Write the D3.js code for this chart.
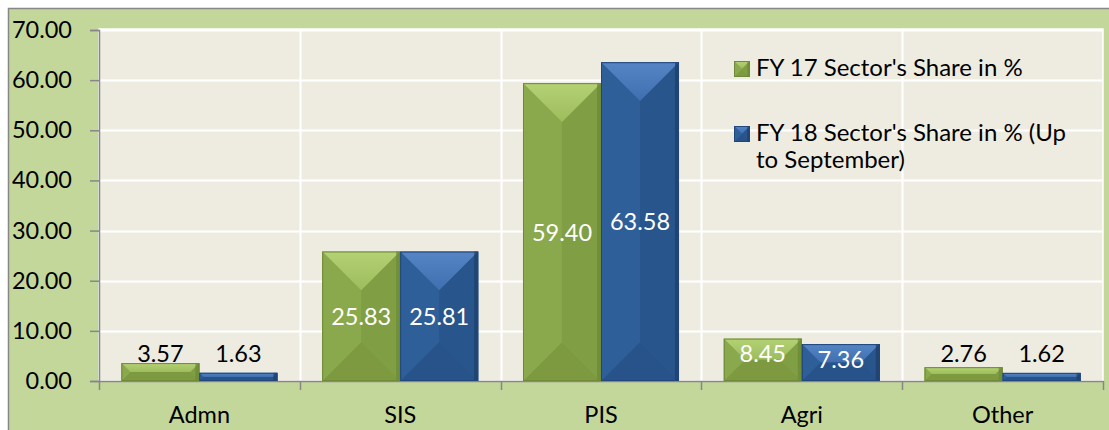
<!DOCTYPE html>
<html>
<head>
<meta charset="utf-8">
<script src="https://cdn.jsdelivr.net/npm/d3@7/dist/d3.min.js"></script>
<style>
  html, body { margin: 0; padding: 0; background: #ffffff; }
  svg { display: block; }
  text { font-family: Lato, "Open Sans", sans-serif; }
</style>
</head>
<body>
<svg id="chart" width="1109" height="430"></svg>
<script>
const categories = ["Admn", "SIS", "PIS", "Agri", "Other"];
const fy17 = [3.57, 25.83, 59.40, 8.45, 2.76];
const fy18 = [1.63, 25.81, 63.58, 7.36, 1.62];
const seriesNames = ["FY 17 Sector's Share in %", "FY 18 Sector's Share in % (Up to September)"];
const yTicks = [0, 10, 20, 30, 40, 50, 60, 70];

const W = 1109, H = 430;
const plot = { left: 99, right: 1103, top: 29, bottom: 381 };
const FS = 23.5;

const palette = [
  { id: "g", base: "#88a64a", topA: "#b4d274", topB: "#9dbc5c", left: "#8aa84c", right: "#809e44", bottom: "#7d9a41", edge: "#6b8734", stroke: "#6f8a38" },
  { id: "b", base: "#2c5c95", topA: "#5585c5", topB: "#3f6fae", left: "#2f5f98", right: "#28568c", bottom: "#27528a", edge: "#1c3d68", stroke: "#21467a" }
];

const svg = d3.select("#chart");
const defs = svg.append("defs");
palette.forEach(c => {
  const lg = defs.append("linearGradient").attr("id", "top-" + c.id).attr("x1", 0).attr("y1", 0).attr("x2", 0).attr("y2", 1);
  lg.append("stop").attr("offset", "0%").attr("stop-color", c.topA);
  lg.append("stop").attr("offset", "100%").attr("stop-color", c.topB);
});

// outer chart area
svg.append("rect").attr("x", 8.5).attr("y", 8.5).attr("width", W).attr("height", H)
  .attr("fill", "#c4d79b").attr("stroke", "#878787").attr("stroke-width", 1.5);

// plot area
svg.append("rect").attr("x", plot.left).attr("y", plot.top)
  .attr("width", plot.right - plot.left).attr("height", plot.bottom - plot.top)
  .attr("fill", "#eeece1").attr("stroke", "#ffffff").attr("stroke-width", 1.5);

const y = d3.scaleLinear().domain([0, 70]).range([plot.bottom, 30]);
const x = d3.scaleBand().domain(categories).range([plot.left, plot.right]).padding(0);
const groupRatio = 0.777;
const xs = d3.scaleBand().domain([0, 1]).range([0, x.bandwidth() * groupRatio]).padding(0);
const groupOffset = (x.bandwidth() * (1 - groupRatio)) / 2;

// horizontal gridlines
svg.append("g").selectAll("line").data(yTicks.filter(t => t > 0)).join("line")
  .attr("x1", plot.left).attr("x2", plot.right)
  .attr("y1", d => Math.round(y(d)) + 0.5).attr("y2", d => Math.round(y(d)) + 0.5)
  .attr("stroke", "#ffffff").attr("stroke-width", 2);

// vertical gridlines at category boundaries
svg.append("g").selectAll("line").data(categories.slice(1)).join("line")
  .attr("x1", d => Math.round(x(d)) + 0.5).attr("x2", d => Math.round(x(d)) + 0.5)
  .attr("y1", plot.top).attr("y2", plot.bottom)
  .attr("stroke", "#ffffff").attr("stroke-width", 2);

// y axis
const yAxis = d3.axisLeft(y).tickValues(yTicks).tickFormat(d3.format(".2f")).tickSize(9).tickPadding(18);
const gy = svg.append("g").attr("transform", `translate(${plot.left},0)`).call(yAxis);
gy.select(".domain").attr("stroke", "#878787").attr("stroke-width", 1.5);
gy.selectAll(".tick line").attr("stroke", "#878787").attr("stroke-width", 1.5);
gy.selectAll(".tick text").attr("font-size", FS).attr("fill", "#000").attr("font-family", "Lato, sans-serif");

// x axis
const xAxis = d3.axisBottom(x).tickSize(0).tickPadding(0);
const gx = svg.append("g").attr("transform", `translate(0,${plot.bottom})`).call(xAxis);
gx.select(".domain").attr("stroke", "#878787").attr("stroke-width", 1.5);
gx.selectAll(".tick text").attr("font-size", FS).attr("fill", "#000").attr("font-family", "Lato, sans-serif")
  .attr("dy", 0).attr("y", 42);
// category boundary ticks
const bounds = categories.map(c => x(c)).concat([plot.right]);
svg.append("g").selectAll("line").data(bounds).join("line")
  .attr("x1", d => Math.round(d) + 0.5).attr("x2", d => Math.round(d) + 0.5)
  .attr("y1", plot.bottom).attr("y2", plot.bottom + 9)
  .attr("stroke", "#878787").attr("stroke-width", 1.5);

function bevelBar(g, x0, y0, w, h, c) {
  const x1 = x0 + w, y1 = y0 + h;
  const d = Math.min(w / 2, h / 2);
  const pts = a => a.map(p => p.join(",")).join(" ");
  g.append("rect").attr("x", x0).attr("y", y0).attr("width", w).attr("height", h).attr("fill", c.base);
  g.append("polygon").attr("points", pts([[x0, y0], [x1, y0], [x1 - d, y0 + d], [x0 + d, y0 + d]])).attr("fill", `url(#top-${c.id})`);
  g.append("polygon").attr("points", pts([[x0, y1], [x1, y1], [x1 - d, y1 - d], [x0 + d, y1 - d]])).attr("fill", c.bottom);
  g.append("polygon").attr("points", pts([[x0, y0], [x0 + d, y0 + d], [x0 + d, y1 - d], [x0, y1]])).attr("fill", c.left);
  g.append("polygon").attr("points", pts([[x1, y0], [x1 - d, y0 + d], [x1 - d, y1 - d], [x1, y1]])).attr("fill", c.right);
  const e = Math.min(4, w / 6);
  g.append("rect").attr("x", x1 - e).attr("y", y0).attr("width", e).attr("height", h).attr("fill", c.edge).attr("opacity", 0.7);
  g.append("rect").attr("x", x0 + 0.5).attr("y", y0 + 0.5).attr("width", w - 1).attr("height", h - 1)
    .attr("fill", "none").attr("stroke", c.stroke).attr("stroke-width", 1);
}

const series = [fy17, fy18];
const barsG = svg.append("g");
series.forEach((vals, si) => {
  vals.forEach((v, i) => {
    const bx = x(categories[i]) + groupOffset + xs(si);
    const by = y(v);
    bevelBar(barsG, bx, by, xs.bandwidth(), y(0) - by, palette[si]);
  });
});

// labels
const labelsG = svg.append("g");
series.forEach((vals, si) => {
  vals.forEach((v, i) => {
    const cx = x(categories[i]) + groupOffset + xs(si) + xs.bandwidth() / 2;
    const small = v < 5;
    let yy;
    if (small) yy = y(3.6) - 1;
    else if (v < 10) yy = Math.min((y(v) + y(0)) / 2, y(v) + 15) + FS * 0.36;
    else yy = (y(v) + y(0)) / 2 + FS * 0.36;
    labelsG.append("text").attr("x", cx).attr("y", yy).attr("text-anchor", "middle")
      .attr("font-size", FS).attr("fill", small ? "#000" : "#fff").text(v.toFixed(2));
  });
});

// legend
const legend = svg.append("g");
const legendItems = [
  { lines: [seriesNames[0]], y: 76 },
  { lines: ["FY 18 Sector's Share in % (Up", "to September)"], y: 141 }
];
legendItems.forEach((it, i) => {
  bevelBar(legend, 734, it.y - 15, 16, 16, palette[i]);
  const t = legend.append("text").attr("x", 756).attr("y", it.y).attr("font-size", 24).attr("fill", "#000");
  it.lines.forEach((ln, j) => {
    t.append("tspan").attr("x", 756).attr("dy", j === 0 ? 0 : 27).text(ln);
  });
});
</script>
</body>
</html>
